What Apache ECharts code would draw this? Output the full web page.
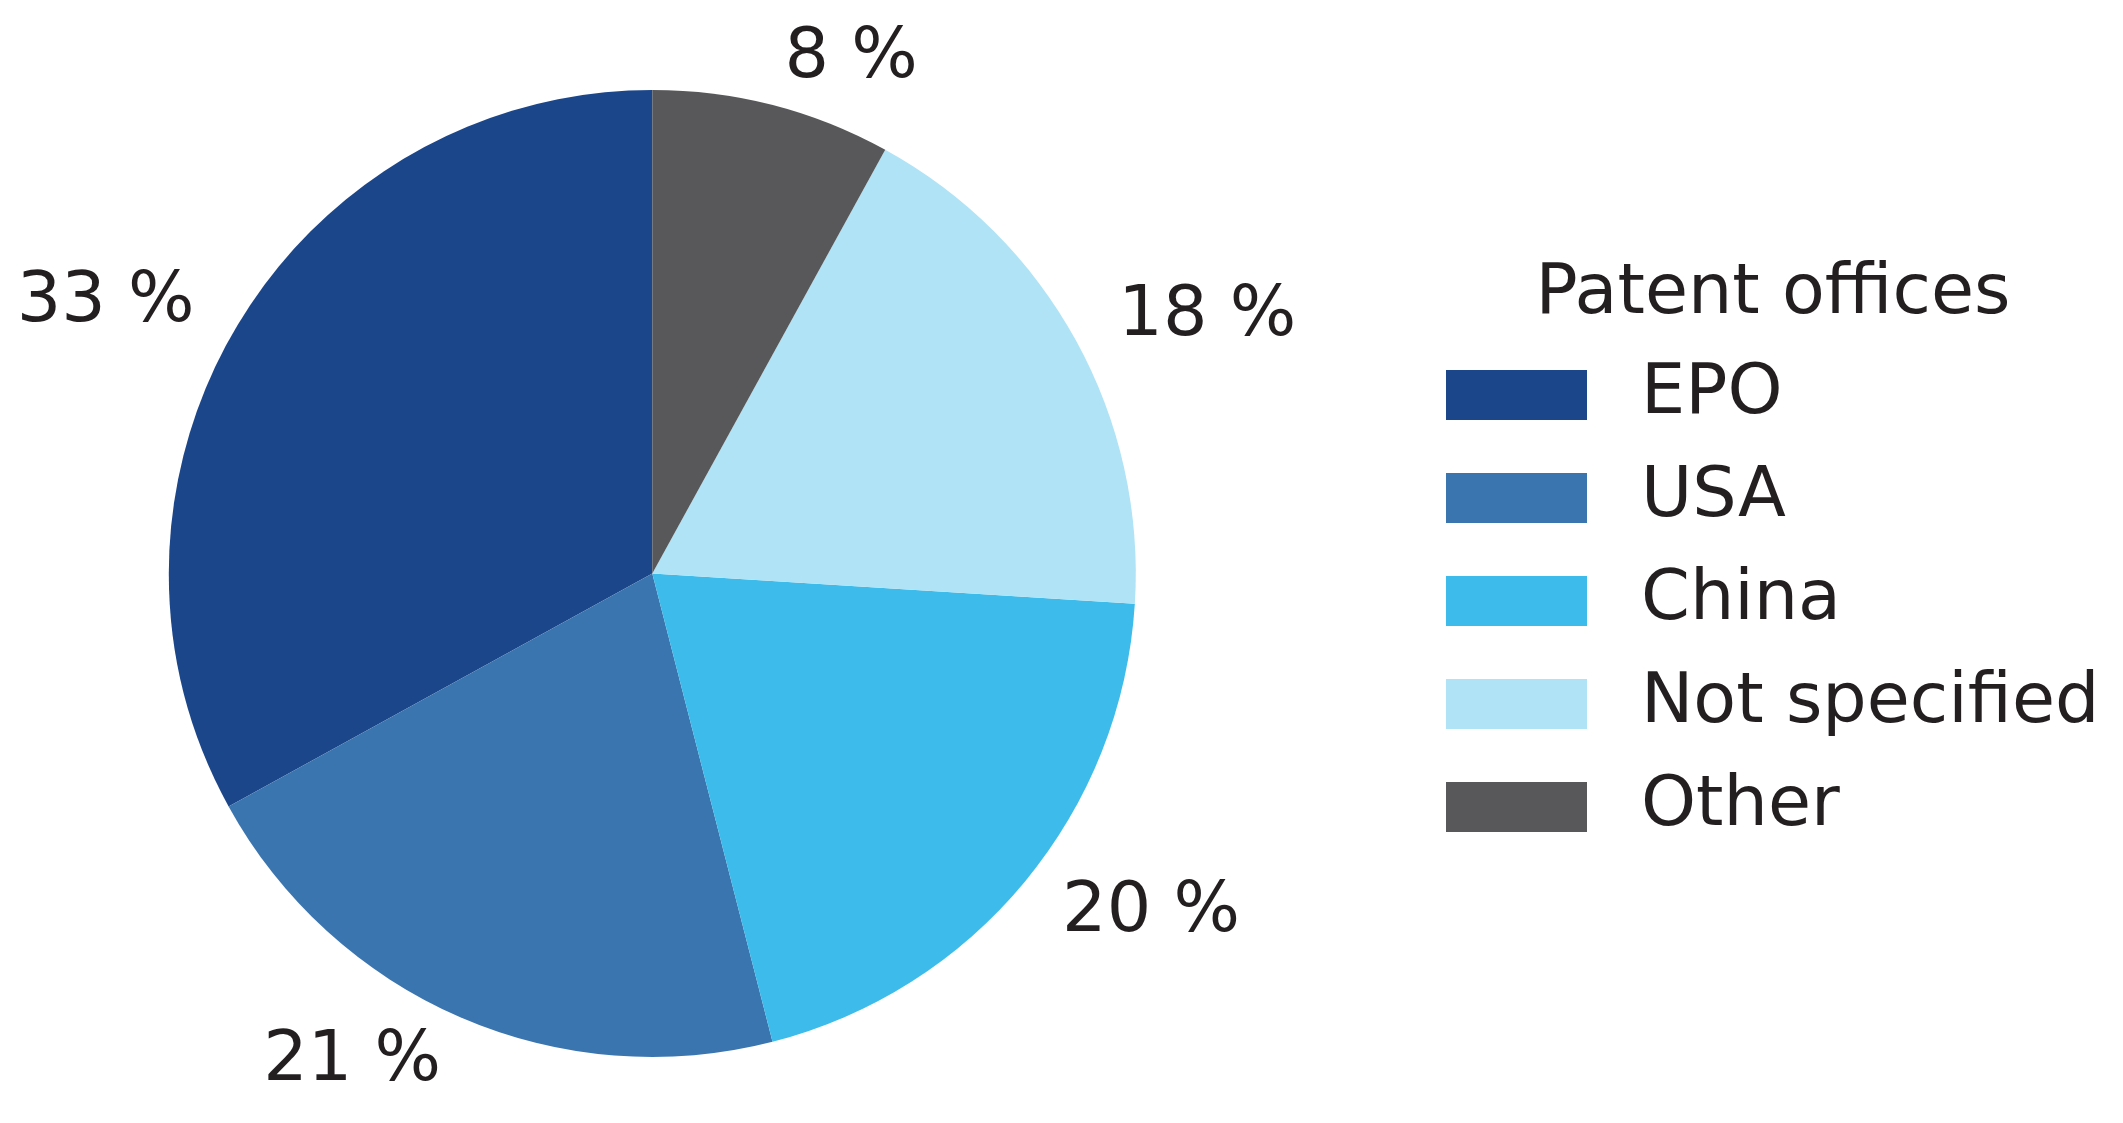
<!DOCTYPE html>
<html>
<head>
<meta charset="utf-8">
<script src="https://cdn.jsdelivr.net/npm/echarts@6/dist/echarts.min.js"></script>
<style>
html,body{margin:0;padding:0;background:#fff;}
#chart{width:2123px;height:1123px;}
</style>
</head>
<body>
<div id="chart"></div>
<script>
const categories = ['EPO', 'USA', 'China', 'Not specified', 'Other'];
const shares = [33, 21, 20, 18, 8];
const colors = ['#1B468A', '#3A75B0', '#3DBBEA', '#B0E3F5', '#58585A'];
const legendTitle = 'Patent offices';

const FONT = 'DejaVu Sans';
const TXT = '#231F20';
const R = 483.5;

const chart = echarts.init(document.getElementById('chart'), null, {renderer: 'canvas'});
chart.setOption({
  animation: false,
  backgroundColor: '#ffffff',
  color: colors,
  legend: {
    orient: 'vertical',
    left: 1446,
    top: 360,
    padding: 0,
    icon: 'rect',
    itemWidth: 141,
    itemHeight: 50,
    itemGap: 33,
    selectedMode: false,
    textStyle: {
      fontFamily: FONT,
      fontSize: 70,
      color: TXT,
      padding: [0, 0, 0, 49]
    },
    data: categories
  },
  graphic: [{
    type: 'text',
    style: {
      text: legendTitle,
      x: 1773,
      y: 295,
      textAlign: 'center',
      textVerticalAlign: 'middle',
      fontFamily: FONT,
      fontSize: 70,
      fill: TXT
    }
  }],
  series: [{
    type: 'pie',
    center: [652.3, 573.5],
    radius: [0, R],
    startAngle: 90,
    clockwise: false,
    avoidLabelOverlap: false,
    silent: true,
    itemStyle: {borderWidth: 0},
    label: {
      show: true,
      position: 'outside',
      formatter: (p) => p.value + ' %',
      fontFamily: FONT,
      fontSize: 70,
      color: TXT,
      distanceToLabelLine: 0
    },
    labelLine: {show: false, length: R * 0.1, length2: 0},
    data: categories.map((c, i) => ({name: c, value: shares[i]}))
  }]
});
</script>
</body>
</html>
